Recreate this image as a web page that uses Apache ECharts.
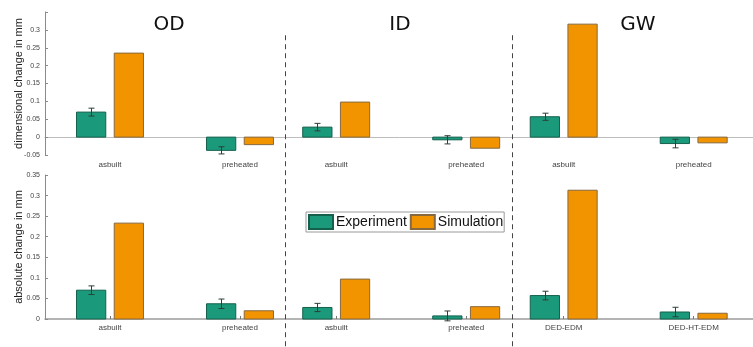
<!DOCTYPE html>
<html>
<head>
<meta charset="utf-8">
<script src="https://cdn.jsdelivr.net/npm/echarts@6/dist/echarts.min.js"></script>
<style>
  html, body { margin: 0; padding: 0; background: #fff; }
  #chart { width: 753px; height: 347px; }
</style>
</head>
<body>
<div id="chart"></div>
<script>
// Geometry groups and where each category sits on the shared x scale
const groups = ['OD', 'ID', 'GW'];
const groupTitleX = [1.455, 3.23, 5.06];
const positions = [1, 2, 2.74, 3.74, 4.49, 5.49];
const separators = [2.345, 4.095];
const topLabels = ['asbuilt', 'preheated', 'asbuilt', 'preheated', 'asbuilt', 'preheated'];
const bottomLabels = ['asbuilt', 'preheated', 'asbuilt', 'preheated', 'DED-EDM', 'DED-HT-EDM'];

// Dimensional change in mm
const dimExperiment = [0.070, -0.037, 0.028, -0.0075, 0.057, -0.018];
const dimSimulation = [0.235, -0.021, 0.098, -0.031, 0.316, -0.016];
const dimError = [0.011, 0.010, 0.0105, 0.0115, 0.010, 0.012];

// Absolute change in mm
const absExperiment = [0.070, 0.037, 0.028, 0.0075, 0.057, 0.017];
const absSimulation = [0.233, 0.020, 0.097, 0.030, 0.313, 0.014];
const absError = [0.0105, 0.0115, 0.010, 0.012, 0.0105, 0.0115];

const yTicksTop = [-0.05, 0.35, 0.05];   // min, max, step
const yTicksBottom = [0, 0.35, 0.05];

const TEAL = '#1b9a7b', TEAL_EDGE = '#15604d';
const ORANGE = '#f29300', ORANGE_EDGE = '#86693f';
const ERR = '#2e3d38';
const BAR_W = 0.225, OFFSET = 0.145;
const FONT = 'Liberation Sans, Arial, sans-serif';

const chart = echarts.init(document.getElementById('chart'), null, { renderer: 'canvas' });

function bar(offset, fill, stroke, withError) {
  return function (params, api) {
    const x = api.value(0), v = api.value(1);
    const a = api.coord([x + offset - BAR_W / 2, 0]);
    const b = api.coord([x + offset + BAR_W / 2, v]);
    const children = [{
      type: 'rect',
      shape: { x: a[0], y: Math.min(a[1], b[1]), width: b[0] - a[0], height: Math.abs(b[1] - a[1]) },
      style: { fill: fill, stroke: stroke, lineWidth: 1 }
    }];
    if (withError) {
      const e = api.value(2);
      const hi = api.coord([x + offset, v + e]);
      const lo = api.coord([x + offset, v - e]);
      const cx = Math.round(hi[0]) + 0.5;
      const es = { stroke: ERR, lineWidth: 1 };
      children.push({ type: 'line', shape: { x1: cx, y1: hi[1], x2: cx, y2: lo[1] }, style: es });
      children.push({ type: 'line', shape: { x1: cx - 3, y1: hi[1], x2: cx + 3, y2: hi[1] }, style: es });
      children.push({ type: 'line', shape: { x1: cx - 3, y1: lo[1], x2: cx + 3, y2: lo[1] }, style: es });
    }
    return { type: 'group', children: children };
  };
}

function rows(vals, errs) {
  return positions.map((p, i) => errs ? [p, vals[i], errs[i]] : [p, vals[i]]);
}

function labelFor(names) {
  return function (v) {
    let best = 0;
    positions.forEach((p, i) => { if (Math.abs(p - v) < Math.abs(positions[best] - v)) best = i; });
    return names[best];
  };
}

const fmt = v => parseFloat(v.toFixed(2)).toString();

const xBase = { type: 'value', min: 0.5, max: 6.0, splitLine: { show: false } };
const yBase = {
  type: 'value', interval: 0.05, splitLine: { show: false },
  nameLocation: 'middle', nameGap: 20.5, nameMoveOverlap: false,
  nameTextStyle: { fontFamily: FONT, fontSize: 11, color: '#222' },
  axisLine: { show: true, lineStyle: { color: '#8a8a8a', width: 1 } },
  axisTick: { show: true, inside: true, length: 3, lineStyle: { color: '#8a8a8a' } },
  axisLabel: { fontFamily: FONT, fontSize: 7, color: '#444', margin: 5 }
};

function seriesFor(gridIdx, exp, sim, err) {
  return [
    {
      name: 'Experiment', type: 'custom', xAxisIndex: gridIdx, yAxisIndex: gridIdx,
      itemStyle: { color: TEAL, borderColor: TEAL_EDGE, borderWidth: 1 },
      renderItem: bar(-OFFSET, TEAL, TEAL_EDGE, true),
      encode: { x: 0, y: [1, 2] },
      data: rows(exp, err), z: 3
    },
    {
      name: 'Simulation', type: 'custom', xAxisIndex: gridIdx, yAxisIndex: gridIdx,
      itemStyle: { color: ORANGE, borderColor: ORANGE_EDGE, borderWidth: 1 },
      renderItem: bar(OFFSET, ORANGE, ORANGE_EDGE, false),
      encode: { x: 0, y: 1 },
      data: rows(sim), z: 3
    }
  ];
}

chart.setOption({
  animation: false,
  backgroundColor: '#fff',
  grid: [
    { left: 45, top: 12, width: 715, height: 143, containLabel: false, outerBoundsMode: 'none' },
    { left: 45, top: 175, width: 715, height: 144, containLabel: false, outerBoundsMode: 'none' }
  ],
  xAxis: [
    Object.assign({}, xBase, {
      gridIndex: 0,
      axisLine: { show: false, onZero: false },
      axisTick: { show: false },
      axisLabel: { customValues: positions, formatter: labelFor(topLabels), fontFamily: FONT, fontSize: 8, color: '#444', margin: 6 }
    }),
    Object.assign({}, xBase, {
      gridIndex: 1,
      axisLine: { show: true, onZero: false, lineStyle: { color: '#9c9c9c', width: 1.5 } },
      axisTick: { show: true, inside: true, length: 3, customValues: positions, lineStyle: { color: '#777' } },
      axisLabel: { customValues: positions, formatter: labelFor(bottomLabels), fontFamily: FONT, fontSize: 8, color: '#444', margin: 5 }
    }),
    // baseline through zero in the upper panel
    Object.assign({}, xBase, {
      gridIndex: 0,
      axisLine: { show: true, onZero: true, lineStyle: { color: '#bdbdbd', width: 1 } },
      axisTick: { show: false },
      axisLabel: { show: false }
    })
  ],
  yAxis: [
    Object.assign({}, yBase, {
      gridIndex: 0, min: yTicksTop[0], max: yTicksTop[1], interval: yTicksTop[2],
      name: 'dimensional change in mm',
      axisLabel: Object.assign({}, yBase.axisLabel, { formatter: v => (v > 0.34 ? '' : fmt(v)) })
    }),
    Object.assign({}, yBase, {
      gridIndex: 1, min: yTicksBottom[0], max: yTicksBottom[1], interval: yTicksBottom[2],
      name: 'absolute change in mm',
      axisLabel: Object.assign({}, yBase.axisLabel, { formatter: fmt })
    })
  ],
  legend: {
    left: 306, top: 212,
    orient: 'horizontal',
    itemWidth: 24, itemHeight: 14, itemGap: 3,
    padding: [2, 1, 2, 2],
    borderColor: '#9a9a9a', borderWidth: 1, backgroundColor: '#fff',
    icon: 'rect',
    textStyle: { fontFamily: FONT, fontSize: 14, color: '#111', lineHeight: 16, padding: [0, 0, 0, -2] },
    data: ['Experiment', 'Simulation']
  },
  series: seriesFor(0, dimExperiment, dimSimulation, dimError)
    .concat(seriesFor(1, absExperiment, absSimulation, absError))
});

// Group titles and dashed separators placed through the axis scales
const sepTopValue = 0.285;
const graphics = [];
separators.forEach(s => {
  const x = Math.round(chart.convertToPixel({ xAxisIndex: 0 }, s)) + 0.5;
  const y0 = chart.convertToPixel({ yAxisIndex: 0 }, sepTopValue);
  graphics.push({
    type: 'line', silent: true, z: 10,
    shape: { x1: x, y1: y0, x2: x, y2: chart.getHeight() },
    style: { stroke: '#444', lineWidth: 1, lineDash: [5, 4] }
  });
});
groups.forEach((g, i) => {
  graphics.push({
    type: 'text', silent: true, z: 10,
    x: chart.convertToPixel({ xAxisIndex: 0 }, groupTitleX[i]), y: 25,
    style: { text: g, font: '20px "DejaVu Sans"', fill: '#111', align: 'center', verticalAlign: 'middle' }
  });
});
chart.setOption({ graphic: graphics });
</script>
</body>
</html>
